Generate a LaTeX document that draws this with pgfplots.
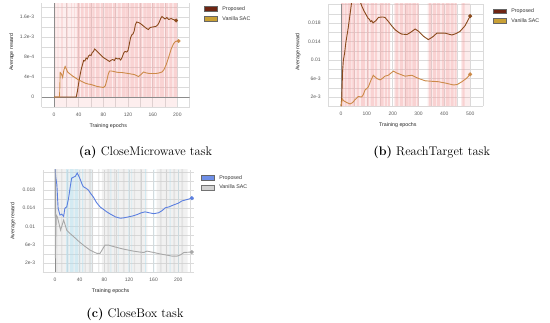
\documentclass[border=0pt]{standalone}
\usepackage{pgfplots}
\pgfplotsset{compat=1.18}
\usepackage{fontspec}
\newfontfamily\chartfont{Liberation Sans}
\definecolor{propA}{HTML}{8A4A1C}
\definecolor{vanA}{HTML}{CC8A48}
\definecolor{propSw}{HTML}{6E2412}
\definecolor{vanSw}{HTML}{C9A035}
\definecolor{blueC}{HTML}{5B7FE0}
\definecolor{blueSw}{HTML}{6F8FE8}
\definecolor{greyC}{HTML}{A8A8A8}
\definecolor{stripeR}{HTML}{F2A0A0}
\definecolor{stripeB}{HTML}{A8E0F5}
\definecolor{stripeG}{HTML}{D0D0D0}
\pgfplotsset{
  panel/.style={
    scale only axis,
    axis line style={draw=none},
    tick style={draw=none},
    grid=both,
    major grid style={draw=black!14, line width=0.4pt},
    minor grid style={draw=black!14, line width=0.4pt},
    scaled x ticks=false, scaled y ticks=false,
    ticklabel style={font=\chartfont\fontsize{5}{6}\selectfont, text=black!65},
    xticklabel style={yshift=-2pt},
    yticklabel style={xshift=-4pt},
    label style={font=\chartfont\fontsize{5.3}{6}\selectfont, text=black!85},
    xlabel style={at={(axis description cs:0.45,0)}, anchor=center, yshift=-19pt},
    clip=true,
    legend style={draw=none, fill=none, anchor=north west,
      font=\chartfont\fontsize{5.3}{6}\selectfont, text=black!80,
      row sep=2.6pt, inner sep=0pt, nodes={inner sep=1pt}},
    legend cell align=left,
  },
  swatch/.style 2 args={legend image code/.code={%
    \draw[fill=#1, draw=#2, line width=0.4pt] (0pt,-2.3pt) rectangle (13pt,2.3pt);
    \path[draw=none, fill=none] (0pt,0pt) rectangle (17pt,0.1pt);}},
}
\begin{document}
\begin{tikzpicture}
\useasboundingbox (0,0) rectangle (550pt,323pt);
%%%%%%%%%%%%%%%%%%%% (a)
\begin{axis}[panel, at={(41.7pt,216pt)}, anchor=south west,
  width=148pt, height=103.5pt,
  xmin=-20, xmax=220, ymin=-2e-4, ymax=1.87e-3,
  xtick={0,40,80,120,160,200}, xticklabels={0,40,80,120,160,200},
  minor xtick={-20,20,60,100,140,180,220},
  ytick={0,4e-4,8e-4,1.2e-3,1.6e-3}, yticklabels={0,4e-4,8e-4,1.2e-3,1.6e-3},
  minor ytick={-2e-4,2e-4,6e-4,1e-3,1.4e-3,1.8e-3},
  xlabel={Training epochs}, ylabel={Average reward},
  ylabel style={at={(axis description cs:-0.203,0.53)}, anchor=center},
  legend style={at={(axis description cs:1.097,0.985)}},
]
\addplot[ybar interval, fill=stripeR, fill opacity=0.18, draw=none, forget plot] coordinates {(0,0.0019) (200,0)};
\addplot[ybar interval, fill=stripeR, fill opacity=0.18, draw=none, forget plot] coordinates {(0,-2.1e-4) (200,0)};
\addplot[ybar interval, fill=stripeR, fill opacity=0.35, draw=none, forget plot] coordinates {
(0,0.0019) (2,0) (6,0.0019) (7,0) (12,0.0019) (14,0) (20,0.0019) (22,0) (28,0.0019) (29,0) (33,0.0019) (34,0)
(37,0.0019) (42,0) (44,0.0019) (48,0) (50,0.0019) (55,0) (57,0.0019) (62,0) (63,0.0019) (66,0) (68,0.0019) (74,0)
(76,0.0019) (80,0) (82,0.0019) (88,0) (89,0.0019) (94,0) (96,0.0019) (101,0) (103,0.0019) (108,0) (110,0.0019) (116,0)
(117,0.0019) (122,0) (124,0.0019) (130,0) (131,0.0019) (136,0) (138,0.0019) (143,0) (145,0.0019) (150,0) (151,0.0019) (157,0)
(159,0.0019) (164,0) (166,0.0019) (171,0) (172,0.0019) (178,0) (180,0.0019) (185,0) (187,0.0019) (192,0) (194,0.0019) (200,0)};
\addplot[black!45, line width=0.5pt, forget plot] coordinates {(-20,0) (220,0)};
\addplot[black!45, line width=0.5pt, forget plot] coordinates {(0,-2e-4) (0,1.87e-3)};
\addplot[propA, line width=0.9pt, swatch={propSw}{black!60}] coordinates {
(0,0) (36,0) (38,1.2e-4) (40,2.8e-4) (42,4.2e-4) (44,5.5e-4) (46,6.4e-4) (48,7.3e-4) (50,7.2e-4)
(52,7.8e-4) (54,7.6e-4) (56,8.2e-4) (58,8.4e-4) (60,8.3e-4) (62,8.9e-4) (64,9.1e-4) (66,9.6e-4)
(70,9.1e-4) (75,8.5e-4) (80,7.9e-4) (85,7.5e-4) (90,7.1e-4) (92,7.3e-4) (95,7.5e-4) (98,7.3e-4)
(100,7.8e-4) (103,7.6e-4) (106,7.7e-4) (108,7.4e-4) (110,7.8e-4) (113,8.8e-4) (115,9.1e-4) (118,9.0e-4)
(120,9.3e-4) (122,1.05e-3) (124,1.18e-3) (126,1.24e-3) (128,1.26e-3) (130,1.32e-3) (132,1.45e-3)
(134,1.50e-3) (137,1.49e-3) (140,1.47e-3) (145,1.42e-3) (150,1.37e-3) (153,1.35e-3) (156,1.39e-3)
(160,1.40e-3) (165,1.41e-3) (168,1.44e-3) (170,1.48e-3) (173,1.57e-3) (175,1.61e-3) (178,1.58e-3)
(180,1.56e-3) (183,1.59e-3) (186,1.55e-3) (190,1.57e-3) (193,1.55e-3) (196,1.54e-3) (198,1.53e-3)};
\addlegendentry{Proposed}
\addplot[vanA, line width=0.9pt, swatch={vanSw}{black!60}] coordinates {
(0,0) (9,0) (10,4.9e-4) (12,4.6e-4) (14,3.9e-4) (16,5.4e-4) (18,6.1e-4) (20,5.6e-4) (22,5.0e-4)
(25,4.7e-4) (30,4.2e-4) (35,3.8e-4) (40,3.4e-4) (45,3.1e-4) (50,2.8e-4) (55,2.6e-4) (60,2.5e-4)
(65,2.3e-4) (70,2.1e-4) (75,2.0e-4) (80,1.9e-4) (83,2.2e-4) (86,3.5e-4) (88,4.6e-4) (90,5.2e-4)
(93,5.2e-4) (97,5.1e-4) (100,5.0e-4) (105,4.9e-4) (110,4.9e-4) (115,4.8e-4) (120,4.7e-4)
(125,4.6e-4) (130,4.5e-4) (137,4.1e-4) (142,4.6e-4) (145,5.0e-4) (150,4.8e-4) (155,4.7e-4)
(160,4.7e-4) (165,4.7e-4) (170,4.8e-4) (175,5.0e-4) (178,5.4e-4) (182,6.5e-4) (186,8.0e-4)
(190,9.6e-4) (194,1.07e-3) (197,1.11e-3) (200,1.12e-3) (202,1.12e-3)};
\addlegendentry{Vanilla SAC}
\addplot[only marks, mark=*, mark size=1.8pt, propA, forget plot] coordinates {(198,1.53e-3)};
\addplot[only marks, mark=*, mark size=1.8pt, vanA, forget plot] coordinates {(202,1.12e-3)};
\end{axis}
\node[font=\fontsize{12.5}{14}\selectfont] at (145.5pt,171pt) {\textbf{(a)} CloseMicrowave task};
%%%%%%%%%%%%%%%%%%%% (b)
\begin{axis}[panel, at={(328.1pt,216.75pt)}, anchor=south west,
  width=155pt, height=102.7pt,
  xmin=-50, xmax=550, ymin=0, ymax=0.0222,
  xtick={0,100,200,300,400,500}, xticklabels={0,100,200,300,400,500},
  minor xtick={-50,50,150,250,350,450,550},
  ytick={0.002,0.006,0.01,0.014,0.018}, yticklabels={2e-3,6e-3,0.01,0.014,0.018},
  minor ytick={0,0.004,0.008,0.012,0.016,0.02,0.022},
  xlabel={Training epochs}, ylabel={Average reward},
  ylabel style={at={(axis description cs:-0.194,0.53)}, anchor=center},
  legend style={at={(axis description cs:1.064,0.965)}},
]
\addplot[ybar interval, fill=stripeR, fill opacity=0.2, draw=none, forget plot] coordinates {
(0,0.023) (190,0) (205,0.023) (300,0) (335,0.023) (445,0) (465,0.023) (500,0)};
\addplot[ybar interval, fill=stripeR, fill opacity=0.35, draw=none, forget plot] coordinates {
(0,0.023) (10,0) (14,0.023) (22,0) (26,0.023) (40,0) (44,0.023) (55,0) (60,0.023) (70,0) (78,0.023) (92,0)
(100,0.023) (108,0) (115,0.023) (128,0) (132,0.023) (140,0) (150,0.023) (165,0) (170,0.023) (178,0)
(182,0.023) (190,0) (210,0.023) (222,0) (228,0.023) (240,0) (246,0.023) (260,0) (262,0.023) (272,0)
(276,0.023) (290,0) (294,0.023) (300,0) (340,0.023) (350,0) (356,0.023) (368,0) (372,0.023) (384,0)
(390,0.023) (400,0) (406,0.023) (420,0) (424,0.023) (436,0) (440,0.023) (448,0) (470,0.023) (478,0) (495,0)};
\addplot[black!45, line width=0.5pt, forget plot] coordinates {(0,0) (0,0.0222)};
\addplot[propA, line width=0.9pt, swatch={propSw}{black!60}] coordinates {
(0,0) (3,0.002) (6,0.0075) (9,0.0099) (14,0.0115) (18,0.0135) (22,0.0149) (28,0.017) (35,0.0199)
(40,0.022) (45,0.024) (55,0.025) (65,0.024) (75,0.0225) (80,0.0217) (90,0.0205) (100,0.0195)
(105,0.0190) (110,0.0188) (114,0.0183) (119,0.0185) (124,0.0180) (128,0.0182) (135,0.0185)
(145,0.0192) (160,0.0193) (170,0.0192) (185,0.0182) (196,0.0174) (210,0.0165) (225,0.0159)
(235,0.0156) (255,0.0155) (270,0.0160) (287,0.0167) (300,0.0162) (320,0.0151) (338,0.0144)
(355,0.0150) (371,0.0158) (390,0.0158) (403,0.0158) (429,0.0154) (445,0.0157) (461,0.0162)
(480,0.0174) (500,0.0195)};
\addlegendentry{Proposed}
\addplot[vanA, line width=0.9pt, swatch={vanSw}{black!60}] coordinates {
(0,0) (5,0.0016) (10,0.0012) (22,0.0008) (35,0.0005) (45,0.0008) (54,0.0014) (67,0.0021) (80,0.0020)
(86,0.0025) (93,0.0035) (106,0.0042) (115,0.0055) (125,0.0067) (138,0.0060) (151,0.0057) (160,0.0060)
(170,0.0065) (183,0.0067) (203,0.0076) (215,0.0072) (229,0.0069) (248,0.0065) (274,0.0067)
(300,0.0060) (326,0.0055) (350,0.0054) (377,0.0053) (405,0.0050) (435,0.0046) (450,0.0047)
(468,0.0053) (485,0.0060) (500,0.0069)};
\addlegendentry{Vanilla SAC}
\addplot[only marks, mark=*, mark size=1.8pt, propA, forget plot] coordinates {(500,0.0195)};
\addplot[only marks, mark=*, mark size=1.8pt, vanA, forget plot] coordinates {(500,0.0069)};
\end{axis}
\node[font=\fontsize{12.5}{14}\selectfont] at (431.7pt,171pt) {\textbf{(b)} ReachTarget task};
%%%%%%%%%%%%%%%%%%%% (c)
\begin{axis}[panel, at={(42.7pt,50.9pt)}, anchor=south west,
  width=151pt, height=102.2pt,
  xmin=-20, xmax=225, ymin=0, ymax=0.0224,
  xtick={0,40,80,120,160,200}, xticklabels={0,40,80,120,160,200},
  minor xtick={-20,20,60,100,140,180,220},
  ytick={0.002,0.006,0.01,0.014,0.018}, yticklabels={2e-3,6e-3,0.01,0.014,0.018},
  minor ytick={0,0.004,0.008,0.012,0.016,0.02,0.022},
  xlabel={Training epochs}, ylabel={Average reward},
  ylabel style={at={(axis description cs:-0.197,0.5)}, anchor=center},
  legend style={at={(axis description cs:1.048,0.96)}},
]
\addplot[ybar interval, fill=stripeG, fill opacity=0.3, draw=none, forget plot] coordinates {
(0,0.023) (62,0) (76,0.023) (150,0) (165,0.023) (215,0)};
\addplot[ybar interval, fill=stripeG, fill opacity=0.45, draw=none, forget plot] coordinates {
(2,0.023) (4,0) (10,0.023) (12,0) (48,0.023) (50,0) (55,0.023) (58,0) (70,0.023) (72,0) (85,0.023) (88,0)
(96,0.023) (98,0) (110,0.023) (113,0) (128,0.023) (130,0) (138,0.023) (141,0) (170,0.023) (173,0)
(180,0.023) (182,0) (192,0.023) (195,0) (205,0.023) (208,0)};
\addplot[ybar interval, fill=stripeB, fill opacity=0.4, draw=none, forget plot] coordinates {
(18,0.023) (22,0) (24,0.023) (30,0) (32,0.023) (38,0) (40,0.023) (41,0) (44,0.023) (46,0)
(58,0.023) (59,0) (90,0.023) (91.5,0) (102,0.023) (103,0) (119,0.023) (120.5,0) (124,0.023) (125,0)
(146,0.023) (147.5,0) (160,0.023) (161,0) (186,0.023) (187.5,0) (200,0.023) (201,0)};
\addplot[black!45, line width=0.5pt, forget plot] coordinates {(0,0) (0,0.0224)};
\addplot[blueC, line width=0.9pt, swatch={blueSw}{black!60}] coordinates {
(0,0.0235) (1,0.021) (3,0.0191) (5,0.014) (8,0.0125) (11,0.0127) (14,0.0122) (16,0.014) (19,0.0143)
(22,0.0162) (25,0.019) (27,0.0206) (30,0.0208) (33,0.021) (36,0.0217) (38,0.0212) (41,0.0203)
(44,0.0192) (46,0.0187) (50,0.0184) (54,0.018) (58,0.0172) (62,0.0165) (67,0.0153) (73,0.0143)
(78,0.0138) (84,0.0132) (90,0.0127) (98,0.0121) (106,0.0118) (112,0.0119) (119,0.0121) (126,0.0123)
(133,0.0126) (140,0.013) (146,0.0132) (153,0.013) (160,0.0128) (168,0.013) (174,0.0135) (179,0.0141)
(185,0.0143) (192,0.0147) (200,0.0151) (206,0.0156) (214,0.0159) (222,0.0162)};
\addlegendentry{Proposed}
\addplot[greyC, line width=0.9pt, swatch={black!18}{black!55}] coordinates {
(0,0.024) (0.5,0.003) (2,0.0125) (4,0.012) (9,0.0092) (14,0.0114) (19,0.0092) (24,0.0085) (30,0.0078)
(38,0.0068) (46,0.0059) (52,0.0053) (57,0.0048) (63,0.0044) (68,0.0041) (73,0.0041) (77,0.005)
(81,0.0059) (87,0.0059) (95,0.0056) (106,0.0052) (116,0.0049) (127,0.0046) (137,0.0044) (144,0.0043)
(149,0.0046) (160,0.0043) (170,0.004) (182,0.0037) (190,0.0035) (198,0.0035) (204,0.0038)
(209,0.0043) (222,0.0044)};
\addlegendentry{Vanilla SAC}
\addplot[only marks, mark=*, mark size=1.8pt, blueC, forget plot] coordinates {(222,0.0162)};
\addplot[only marks, mark=*, mark size=1.8pt, greyC, forget plot] coordinates {(222,0.0044)};
\end{axis}
\node[font=\fontsize{12.5}{14}\selectfont] at (135pt,9pt) {\textbf{(c)} CloseBox task};
\end{tikzpicture}
\end{document}
